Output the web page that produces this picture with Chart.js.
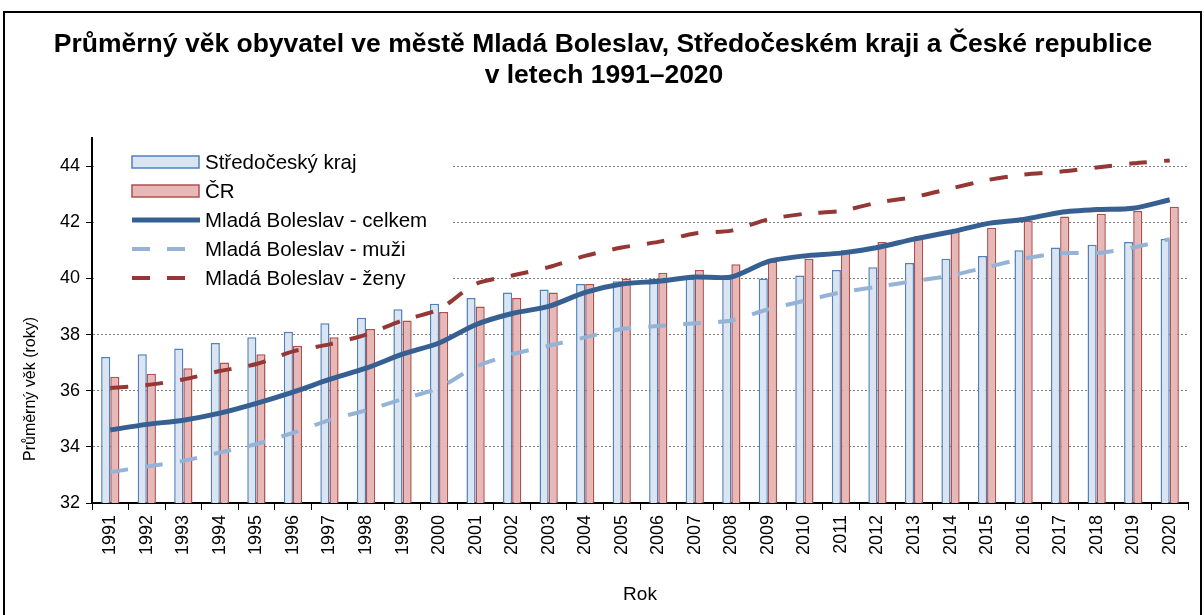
<!DOCTYPE html>
<html lang="cs">
<head>
<meta charset="utf-8">
<title>Průměrný věk obyvatel</title>
<script src="https://cdn.jsdelivr.net/npm/chart.js@4.4.1/dist/chart.umd.min.js"></script>
<style>
    body { margin: 0; background: #fff; }
    #obal { position: relative; width: 1204px; height: 615px; overflow: hidden; }
    #ramecek { position: absolute; left: 3px; top: 11px; width: 1195px; height: 640px; border: 2px solid #000; pointer-events: none; }
</style>
</head>
<body>
<div id="obal">
    <canvas id="vekChart" width="1204" height="615"></canvas>
    <div id="ramecek"></div>
</div>
<script>
// data
const roky = ['1991', '1992', '1993', '1994', '1995', '1996', '1997', '1998', '1999', '2000',
              '2001', '2002', '2003', '2004', '2005', '2006', '2007', '2008', '2009', '2010',
              '2011', '2012', '2013', '2014', '2015', '2016', '2017', '2018', '2019', '2020'];

const stredoceskyKraj = [37.2, 37.3, 37.5, 37.7, 37.9, 38.1, 38.4, 38.6, 38.9, 39.1,
                         39.3, 39.5, 39.6, 39.8, 39.9, 40.0, 40.0, 40.0, 40.0, 40.1,
                         40.3, 40.4, 40.55, 40.7, 40.8, 41.0, 41.1, 41.2, 41.3, 41.4];

const ceskaRepublika = [36.5, 36.6, 36.8, 37.0, 37.3, 37.6, 37.9, 38.2, 38.5, 38.8,
                        39.0, 39.3, 39.5, 39.8, 40.0, 40.2, 40.3, 40.5, 40.6, 40.7,
                        41.0, 41.3, 41.5, 41.7, 41.8, 42.05, 42.2, 42.3, 42.4, 42.55];

const mbCelkem = [34.6, 34.8, 34.95, 35.2, 35.55, 35.95, 36.4, 36.8, 37.3, 37.7,
                  38.35, 38.75, 39.0, 39.5, 39.8, 39.9, 40.05, 40.05, 40.6, 40.8,
                  40.9, 41.1, 41.4, 41.65, 41.95, 42.1, 42.35, 42.45, 42.5, 42.8];

const mbMuzi = [33.1, 33.3, 33.5, 33.8, 34.1, 34.5, 34.95, 35.3, 35.7, 36.1,
                36.85, 37.3, 37.6, 37.9, 38.2, 38.3, 38.4, 38.5, 38.9, 39.2,
                39.5, 39.7, 39.9, 40.1, 40.4, 40.7, 40.9, 40.9, 41.1, 41.4];

const mbZeny = [36.1, 36.2, 36.4, 36.7, 36.95, 37.4, 37.65, 38.0, 38.5, 38.9,
                39.8, 40.1, 40.4, 40.8, 41.1, 41.3, 41.6, 41.7, 42.1, 42.3,
                42.4, 42.7, 42.9, 43.2, 43.5, 43.7, 43.8, 43.95, 44.1, 44.2];

const nadpis = ['Průměrný věk obyvatel ve městě Mladá Boleslav, Středočeském kraji a České republice',
                'v letech 1991–2020'];

const BARVY = {
    krajVypln: '#dbe5f1',
    krajOkraj: '#4f81bd',
    crVypln: '#e6b9b8',
    crOkraj: '#b0504d',
    celkem: '#376092',
    muzi: '#95b3d7',
    zeny: '#953735'
};

const PISMO = '"Liberation Sans", Arial, sans-serif';
Chart.defaults.font.family = PISMO;
Chart.defaults.color = '#000';

// nadpis, popisek osy Y a legenda uvnitř grafu
const popiskyPlugin = {
    id: 'popisky',
    beforeDatasetsDraw(chart) {
        const ctx = chart.ctx;
        const area = chart.chartArea;
        // bílé pozadí legendy zakrývá mřížku
        ctx.save();
        ctx.fillStyle = '#fff';
        ctx.fillRect(area.left + 2, area.top, 452 - area.left - 2, 292 - area.top);
        ctx.restore();
    },
    afterDraw(chart) {
        const ctx = chart.ctx;
        ctx.save();
        ctx.fillStyle = '#000';
        ctx.textAlign = 'center';
        ctx.textBaseline = 'middle';
        ctx.font = 'bold 26.5px ' + PISMO;
        ctx.fillText(nadpis[0], 603, 45);
        ctx.fillText(nadpis[1], 604, 76);

        ctx.font = '16px ' + PISMO;
        ctx.translate(31, 389);
        ctx.rotate(-Math.PI / 2);
        ctx.fillText('Průměrný věk (roky)', 0, 0);
        ctx.restore();

        // legenda
        const polozky = chart.data.datasets.slice().sort((a, b) => a.poradiLegendy - b.poradiLegendy);
        ctx.save();
        ctx.font = '20.5px ' + PISMO;
        ctx.textBaseline = 'middle';
        polozky.forEach((ds, i) => {
            const y = 162 + i * 29;
            if (ds.type === 'line') {
                ctx.strokeStyle = ds.borderColor;
                ctx.lineWidth = ds.borderWidth;
                ctx.setLineDash(ds.borderDash || []);
                ctx.beginPath();
                ctx.moveTo(132, y);
                ctx.lineTo(200, y);
                ctx.stroke();
                ctx.setLineDash([]);
            } else {
                ctx.fillStyle = ds.backgroundColor;
                ctx.strokeStyle = ds.borderColor;
                ctx.lineWidth = 1.5;
                ctx.fillRect(132, y - 6, 67, 12);
                ctx.strokeRect(132, y - 6, 67, 12);
            }
            ctx.fillStyle = '#000';
            ctx.fillText(ds.label, 205, y + 1);
        });
        ctx.restore();
    }
};

const ctx = document.getElementById('vekChart').getContext('2d');
new Chart(ctx, {
    type: 'bar',
    data: {
        labels: roky,
        datasets: [
            {
                type: 'line',
                label: 'Mladá Boleslav - ženy',
                data: mbZeny,
                borderColor: BARVY.zeny,
                borderWidth: 4,
                borderDash: [18, 17],
                pointRadius: 0,
                tension: 0.25,
                order: 0,
                poradiLegendy: 5
            },
            {
                type: 'line',
                label: 'Mladá Boleslav - muži',
                data: mbMuzi,
                borderColor: BARVY.muzi,
                borderWidth: 4,
                borderDash: [18, 17],
                pointRadius: 0,
                tension: 0.25,
                order: 0,
                poradiLegendy: 4
            },
            {
                type: 'line',
                label: 'Mladá Boleslav - celkem',
                data: mbCelkem,
                borderColor: BARVY.celkem,
                borderWidth: 5,
                pointRadius: 0,
                tension: 0.25,
                order: 0,
                poradiLegendy: 3
            },
            {
                label: 'Středočeský kraj',
                data: stredoceskyKraj,
                backgroundColor: BARVY.krajVypln,
                borderColor: BARVY.krajOkraj,
                borderWidth: 1.5,
                categoryPercentage: 0.5,
                barPercentage: 1.0,
                order: 1,
                poradiLegendy: 1
            },
            {
                label: 'ČR',
                data: ceskaRepublika,
                backgroundColor: BARVY.crVypln,
                borderColor: BARVY.crOkraj,
                borderWidth: 1.5,
                categoryPercentage: 0.5,
                barPercentage: 1.0,
                order: 1,
                poradiLegendy: 2
            }
        ]
    },
    options: {
        responsive: false,
        animation: false,
        layout: {
            padding: { top: 138, right: 16, left: 0, bottom: 0 }
        },
        plugins: {
            legend: { display: false },
            tooltip: { enabled: false }
        },
        scales: {
            x: {
                afterFit: function(scale) {
                    scale.height = 112;
                },
                grid: {
                    drawOnChartArea: false,
                    color: '#000',
                    tickLength: 7
                },
                border: { color: '#000', width: 2 },
                ticks: {
                    minRotation: 90,
                    maxRotation: 90,
                    padding: 5,
                    font: { size: 18 }
                },
                title: {
                    display: true,
                    text: 'Rok',
                    font: { size: 19 },
                    padding: { top: 0, bottom: 9 }
                }
            },
            y: {
                min: 32,
                max: 45,
                afterFit: function(scale) {
                    scale.width = 92;
                },
                afterBuildTicks: function(scale) {
                    scale.ticks = scale.ticks.filter(t => t.value % 2 === 0);
                },
                grid: {
                    color: '#7f7f7f',
                    tickColor: '#000',
                    tickLength: 6
                },
                border: { color: '#000', width: 2, dash: [2, 2] },
                ticks: {
                    stepSize: 2,
                    padding: 6,
                    font: { size: 18 }
                }
            }
        }
    },
    plugins: [popiskyPlugin]
});
</script>
</body>
</html>
